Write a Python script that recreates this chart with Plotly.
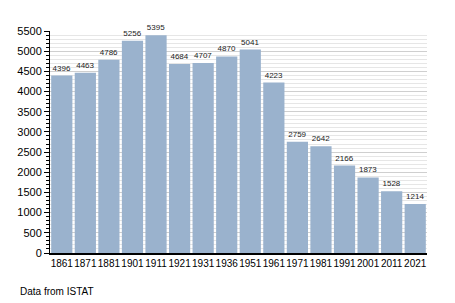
import plotly.graph_objects as go

years = ["1861", "1871", "1881", "1901", "1911", "1921", "1931", "1936", "1951",
         "1961", "1971", "1981", "1991", "2001", "2011", "2021"]
population = [4396, 4463, 4786, 5256, 5395, 4684, 4707, 4870, 5041,
              4223, 2759, 2642, 2166, 1873, 1528, 1214]
y_ticks = list(range(0, 5501, 500))

fig = go.Figure(go.Bar(
    x=years, y=population,
    marker=dict(color="#9ab2cd", line=dict(width=0)),
    text=[str(v) for v in population],
    textposition="outside",
    textfont=dict(size=8, color="#222", family="Liberation Sans, Arial, sans-serif"),
    cliponaxis=False,
))

fig.update_layout(
    width=455, height=303,
    margin=dict(l=50, r=28, t=31, b=50),
    paper_bgcolor="white", plot_bgcolor="white",
    bargap=0.1,
    showlegend=False,
    font=dict(family="Liberation Sans, Arial, sans-serif", size=11, color="black"),
    annotations=[dict(text="Data from ISTAT", xref="paper", yref="paper",
                      x=-0.085, y=-0.175, xanchor="left", yanchor="middle",
                      showarrow=False, font=dict(size=10, color="black"))],
)
fig.update_xaxes(type="category", showline=True, linecolor="black", linewidth=1.5,
                 ticks="", tickangle=0, tickfont=dict(size=10), showgrid=False)
fig.update_yaxes(range=[0, 5500], tickvals=y_ticks, showline=True, linecolor="black",
                 linewidth=1, ticks="outside", ticklen=5, tickcolor="black",
                 showgrid=True, gridcolor="#cfcfcf", gridwidth=1, zeroline=False,
                 tickfont=dict(size=11),
                 minor=dict(dtick=100, ticks="outside", ticklen=3, tickcolor="black",
                            showgrid=True, gridcolor="#e6e6e6", gridwidth=1))

fig.write_html("out.html")
